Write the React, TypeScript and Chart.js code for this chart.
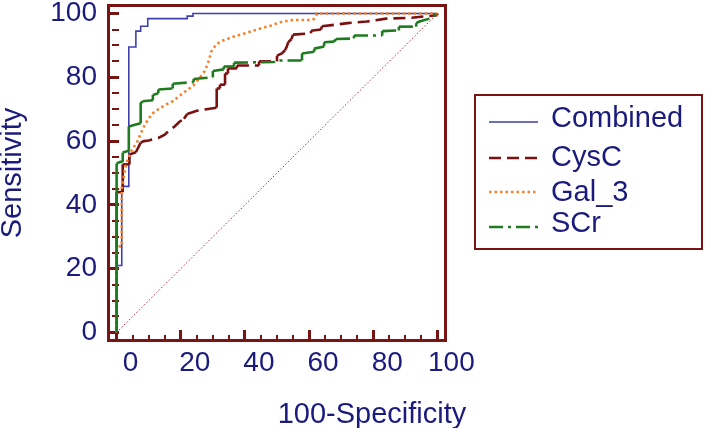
import React, { useEffect, useRef } from "react";
import { Chart, registerables } from "chart.js";

Chart.register(...registerables);

const FONT = "'Liberation Sans', Arial, Helvetica, sans-serif";
const TEXT_COLOR = "#1b1b7d";
const FRAME_COLOR = "#771515";
const AXIS_MIN = -3;
const AXIS_MAX = 103;

const seriesLabels = ["Combined", "CysC", "Gal_3", "SCr"];

const combinedX = [0, 0, 1.6, 1.6, 3.8, 3.8, 6, 6, 7.5, 7.5, 9.7, 9.7, 22, 22, 23.8, 23.8, 100];
const combinedY = [0, 21, 21, 45.8, 45.8, 89.5, 89.5, 94.5, 94.5, 96, 96, 98.4, 98.4, 99.2, 99.2, 100, 100];

const cysCX = [0, 0, 1.9, 1.9, 4, 4, 6, 7.5, 8.5, 10, 13, 15, 16.5, 18, 19.5, 21, 22, 25, 28, 31.2, 31.2, 32.2, 32.2, 33.8, 33.8, 34.7, 34.7, 37.5, 37.5, 44.4, 44.4, 50, 50, 51.5, 52.5, 53, 53.5, 54.5, 55, 60.6, 60.6, 63.7, 64, 68, 72, 78, 84, 92, 100, 100];
const cysCY = [0, 44, 44, 52.7, 52.7, 55.8, 56.5, 59.5, 60, 60.2, 61, 62, 63.5, 64.5, 66, 67, 68.5, 69.5, 70, 70.5, 76.5, 76.5, 77.7, 77.7, 81.2, 81.2, 82.8, 82.8, 83.7, 83.7, 85, 85, 86.8, 87.5, 88.5, 89.5, 91, 92, 93.4, 93.8, 94.6, 95, 96, 96.5, 97, 97.5, 98.4, 98.7, 99.5, 100];

const gal3X = [0, 0, 1.6, 1.6, 2, 2.4, 3, 4.4, 6.5, 7.8, 9, 11, 13, 15.5, 17.5, 20, 22, 24, 26, 27.5, 28.5, 29.5, 31, 33, 36.6, 40, 42.8, 48, 51, 55, 60, 61.6, 62.5, 100];
const gal3Y = [0, 27, 27, 45, 47, 50, 53, 56.5, 60, 63, 65.5, 68.5, 70, 71.5, 72.5, 74.5, 76, 77.5, 80, 82, 84.5, 88, 90.3, 91.5, 92.8, 93.8, 94.7, 96.2, 97.3, 98, 98, 98.3, 100, 100];

const sCrX = [0, 0, 1.2, 1.9, 1.9, 3.8, 3.8, 6, 7.5, 7.5, 8.1, 11.3, 11.3, 13, 13, 17.5, 17.5, 24, 24, 30, 30, 33.4, 33.4, 36.6, 36.6, 49, 49.7, 57.8, 57.8, 61.6, 61.6, 64.7, 64.7, 67.8, 68.4, 74, 74, 82.8, 82.8, 88, 88, 93.4, 93.4, 94.4, 97.5, 100];
const sCrY = [0, 53, 53.5, 53.5, 56.4, 57, 64.6, 65.2, 65.6, 71.8, 72.5, 72.8, 74.5, 75, 76.2, 76.5, 78, 78.5, 79.5, 80, 82, 82.5, 83.4, 83.4, 84.6, 84.8, 85.3, 85.3, 87.5, 88, 89, 89.7, 91, 91.2, 92, 92.2, 93.1, 93.1, 94.5, 94.7, 95.9, 95.9, 97, 97.5, 98.4, 100];

const referenceX = [0, 100];
const referenceY = [0, 100];

// major ticks get labels, the 5-step ticks are minor marks
const majorTickValues = [0, 20, 40, 60, 80, 100];
const allTickValues = [0, 5, 10, 15, 20, 25, 30, 35, 40, 45, 50, 55, 60, 65, 70, 75, 80, 85, 90, 95, 100];

const xTitle = "100-Specificity";
const yTitle = "Sensitivity";

const toPoints = (xs: number[], ys: number[]) => xs.map((x, i) => ({ x, y: ys[i] }));

// legend layout: [sample line y, text baseline y]
const legendRows = [
  [122, 127],
  [158, 166],
  [192, 201],
  [227, 232],
];

// horizontal-ish pieces get the dash pattern, steep pieces stay solid
const dashIfFlat = (pattern: number[]) => (ctx: any) => {
  const dx = Math.abs(ctx.p1.x - ctx.p0.x);
  const dy = Math.abs(ctx.p1.y - ctx.p0.y);
  return dy < dx ? pattern : [];
};

const isMajor = (ctx: any) => ctx.tick && majorTickValues.includes(ctx.tick.value);

const tickGrid = {
  display: true,
  drawOnChartArea: false,
  drawTicks: true,
  tickLength: -12,
  tickColor: FRAME_COLOR,
  tickWidth: (ctx: any) => (isMajor(ctx) ? 3 : 2),
  tickBorderDash: (ctx: any) => (isMajor(ctx) ? [] : [7, 40]),
  color: FRAME_COLOR,
  lineWidth: (ctx: any) => (isMajor(ctx) ? 3 : 2),
};

const tickLabel = (value: any) => (majorTickValues.includes(Number(value)) ? String(value) : "");

const framePlugin = {
  id: "rocFrame",
  afterDraw(chart: any) {
    const ctx = chart.ctx;
    const a = chart.chartArea;
    ctx.save();
    ctx.setLineDash([]);
    ctx.fillStyle = FRAME_COLOR;
    ctx.fillRect(a.left, a.top, a.right - a.left, 3);
    ctx.fillRect(a.left, a.bottom - 3, a.right - a.left, 3);
    ctx.fillRect(a.left, a.top, 3, a.bottom - a.top);
    ctx.fillRect(a.right - 3, a.top, 3, a.bottom - a.top);

    // x-axis title
    ctx.fillStyle = TEXT_COLOR;
    ctx.font = `29px ${FONT}`;
    ctx.textAlign = "center";
    ctx.textBaseline = "alphabetic";
    ctx.fillText(xTitle, 372, 423);

    // legend
    ctx.lineWidth = 2;
    ctx.strokeStyle = FRAME_COLOR;
    ctx.strokeRect(475, 95, 227, 154);
    ctx.textAlign = "left";
    seriesLabels.forEach((label, i) => {
      const ds = chart.data.datasets[i];
      const [ly, ty] = legendRows[i];
      ctx.strokeStyle = ds.borderColor;
      ctx.lineWidth = ds.borderWidth;
      ctx.setLineDash(ds.borderDash || []);
      ctx.lineDashOffset = 0;
      ctx.beginPath();
      ctx.moveTo(489, ly);
      ctx.lineTo(538, ly);
      ctx.stroke();
      ctx.setLineDash([]);
      ctx.fillStyle = TEXT_COLOR;
      ctx.fillText(label, 551, ty);
    });
    ctx.restore();
  },
};

export default function App() {
  const ref = useRef<HTMLCanvasElement | null>(null);

  useEffect(() => {
    if (!ref.current) return;
    const chart = new Chart(ref.current, {
      type: "scatter",
      data: {
        datasets: [
          {
            label: seriesLabels[0],
            data: toPoints(combinedX, combinedY),
            showLine: true,
            borderColor: "#3f3fae",
            borderWidth: 1.6,
            borderDash: [],
            pointRadius: 0,
            order: 4,
          },
          {
            label: seriesLabels[1],
            data: toPoints(cysCX, cysCY),
            showLine: true,
            borderColor: "#7b1010",
            borderWidth: 2.6,
            borderDash: [12, 6],
            segment: { borderDash: dashIfFlat([12, 6]) },
            pointRadius: 0,
            order: 3,
          },
          {
            label: seriesLabels[2],
            data: toPoints(gal3X, gal3Y),
            showLine: true,
            borderColor: "#f5822a",
            borderWidth: 2.6,
            borderDash: [2.5, 3],
            pointRadius: 0,
            order: 2,
          },
          {
            label: seriesLabels[3],
            data: toPoints(sCrX, sCrY),
            showLine: true,
            borderColor: "#1e7b1e",
            borderWidth: 2.6,
            borderDash: [14, 5, 3, 5],
            segment: { borderDash: dashIfFlat([14, 5, 3, 5]) },
            pointRadius: 0,
            order: 1,
          },
          {
            label: "reference",
            data: toPoints(referenceX, referenceY),
            showLine: true,
            borderColor: "#a83232",
            borderWidth: 1,
            borderDash: [1.5, 2],
            pointRadius: 0,
            order: 5,
          },
        ],
      },
      options: {
        responsive: false,
        animation: false,
        events: [],
        layout: { padding: { top: 4, right: 262, bottom: 0, left: 0 } },
        plugins: {
          legend: { display: false },
          tooltip: { enabled: false },
        },
        scales: {
          x: {
            type: "linear",
            min: AXIS_MIN,
            max: AXIS_MAX,
            grid: tickGrid,
            border: { display: false },
            afterBuildTicks: (scale: any) => {
              scale.ticks = allTickValues.map((v) => ({ value: v }));
            },
            afterFit: (scale: any) => {
              scale.height = 86;
              scale.paddingLeft = 0;
              scale.paddingRight = 0;
            },
            ticks: {
              color: TEXT_COLOR,
              font: { family: FONT, size: 28 },
              padding: 16,
              labelOffset: 14,
              maxRotation: 0,
              autoSkip: false,
              callback: tickLabel,
            },
          },
          y: {
            type: "linear",
            min: AXIS_MIN,
            max: AXIS_MAX,
            grid: tickGrid,
            border: { display: false },
            afterBuildTicks: (scale: any) => {
              scale.ticks = allTickValues.map((v) => ({ value: v }));
            },
            afterFit: (scale: any) => {
              scale.width = 107;
              scale.paddingTop = 0;
              scale.paddingBottom = 0;
            },
            ticks: {
              color: TEXT_COLOR,
              font: { family: FONT, size: 28 },
              padding: 22,
              autoSkip: false,
              callback: tickLabel,
            },
            title: {
              display: true,
              text: yTitle,
              color: TEXT_COLOR,
              font: { family: FONT, size: 29, lineHeight: 0.93 },
              padding: { top: 0, bottom: 0 },
            },
          },
        },
      },
      plugins: [framePlugin],
    });
    return () => chart.destroy();
  }, []);

  return (
    <div style={{ position: "fixed", left: 0, top: 0, width: 709, height: 428, background: "#ffffff" }}>
      <canvas ref={ref} width={709} height={428} />
    </div>
  );
}
